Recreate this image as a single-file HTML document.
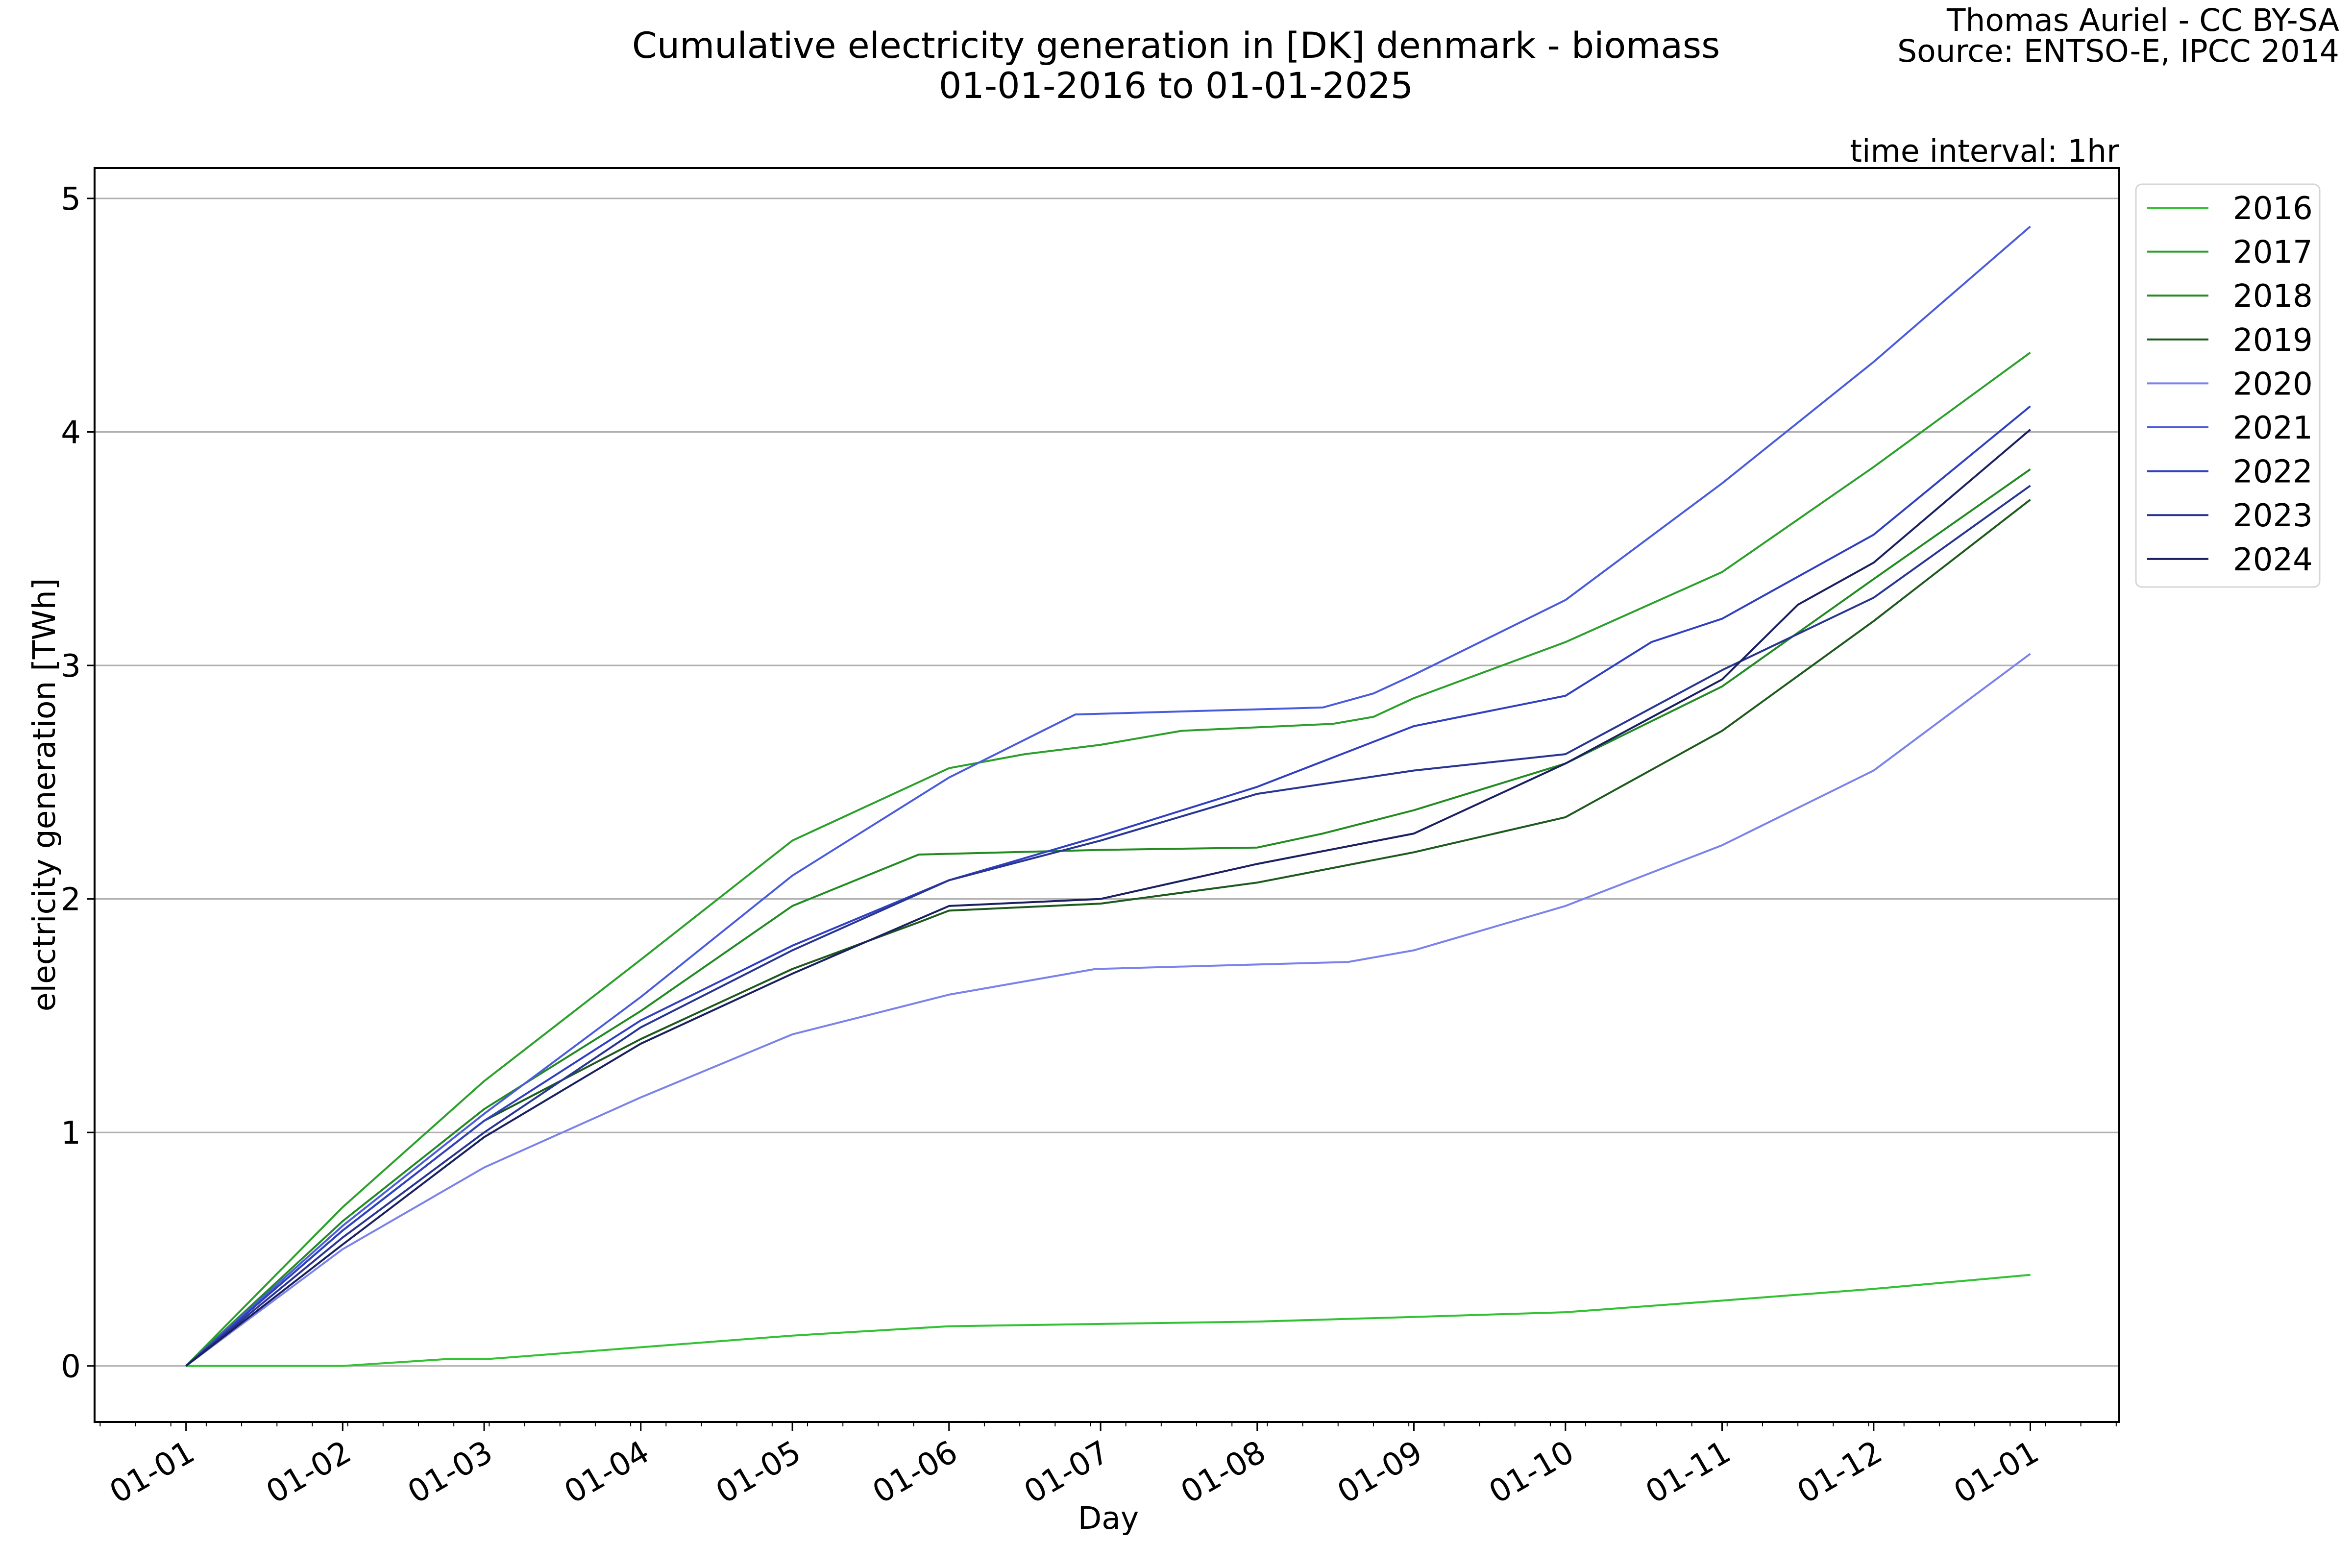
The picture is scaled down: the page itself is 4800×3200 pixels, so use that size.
<!DOCTYPE html>
<html>
<head>
<meta charset="utf-8">
<style>
html,body{margin:0;padding:0;background:#fff;}
svg{display:block;font-family:"DejaVu Sans","Liberation Sans",sans-serif;}
</style>
</head>
<body>
<svg id="chart" width="4800" height="3200" viewBox="0 0 4800 3200" xmlns="http://www.w3.org/2000/svg">
  <rect x="0" y="0" width="4800" height="3200" fill="#fff"/>
  <text x="2400" y="118" text-anchor="middle" font-size="73" fill="#000">Cumulative electricity generation in [DK] denmark - biomass</text>
  <text x="2400" y="200" text-anchor="middle" font-size="73" fill="#000">01-01-2016 to 01-01-2025</text>
  <text x="4774" y="63" text-anchor="end" font-size="63" fill="#000">Thomas Auriel - CC BY-SA</text>
  <text x="4774" y="126" text-anchor="end" font-size="63" fill="#000">Source: ENTSO-E, IPCC 2014</text>
  <text x="4325" y="330" text-anchor="end" font-size="63" fill="#000">time interval: 1hr</text>
  <g id="grid"></g>
  <g id="series"></g>
  <rect x="193" y="343" width="4132" height="2559" fill="none" stroke="#000" stroke-width="4"/>
  <g id="yaxis"></g>
  <g id="xaxis"></g>
  <text transform="translate(112,1622) rotate(-90)" text-anchor="middle" font-size="63" fill="#000">electricity generation [TWh]</text>
  <text x="2262" y="3120" text-anchor="middle" font-size="63" fill="#000">Day</text>
  <g id="legend"></g>
</svg>
<script>
const years = ['2016','2017','2018','2019','2020','2021','2022','2023','2024'];
const colors = ['#33c233','#2ca02c','#228b22','#1e5a1e','#7b83eb','#4a5cdb','#3040c0','#283593','#1a2060'];
const days = [0,31,59,90,120,151,181,212,243,273,304,334,365];
const d2016 = [0,31,45,52,60,90,120,151,181,212,243,273,304,334,365];
const s2016 = [0,0,0.02,0.03,0.03,0.08,0.13,0.17,0.18,0.19,0.21,0.23,0.28,0.33,0.39];
const d2017 = [0,31,59,90,120,151,166,181,197,227,235,243,273,304,334,365];
const s2017 = [0,0.68,1.22,1.74,2.25,2.56,2.62,2.66,2.72,2.75,2.78,2.86,3.10,3.40,3.85,4.34];
const d2018 = [0,31,59,90,120,145,181,212,225,243,273,304,334,365];
const s2018 = [0,0.62,1.10,1.52,1.97,2.19,2.21,2.22,2.28,2.38,2.58,2.91,3.37,3.84];
const d2019 = [0,31,59,90,120,145,151,181,212,243,273,304,334,365];
const s2019 = [0,0.58,1.05,1.40,1.70,1.90,1.95,1.98,2.07,2.20,2.35,2.72,3.19,3.71];
const d2020 = [0,31,59,90,120,151,180,230,243,273,304,334,365];
const s2020 = [0,0.50,0.85,1.15,1.42,1.59,1.70,1.73,1.78,1.97,2.23,2.55,3.05];
const d2021 = [0,31,59,90,120,151,176,225,235,243,273,304,334,365];
const s2021 = [0,0.60,1.08,1.58,2.10,2.52,2.79,2.82,2.88,2.96,3.28,3.78,4.30,4.88];
const d2022 = [0,31,59,90,120,151,181,212,243,273,290,304,334,365];
const s2022 = [0,0.58,1.05,1.48,1.80,2.08,2.27,2.48,2.74,2.87,3.10,3.20,3.56,4.11];
const d2023 = days;
const s2023 = [0,0.55,1.00,1.45,1.78,2.08,2.25,2.45,2.55,2.62,2.98,3.29,3.77];
const d2024 = [0,31,59,90,120,151,181,212,243,273,304,319,334,365];
const s2024 = [0,0.52,0.98,1.38,1.68,1.97,2.00,2.15,2.28,2.58,2.94,3.26,3.44,4.01];
const yTicks = [0,1,2,3,4,5];
const xTickLabels = ['01-01','01-02','01-03','01-04','01-05','01-06','01-07','01-08','01-09','01-10','01-11','01-12','01-01'];
const xTickDays = [0,31,59,90,120,151,181,212,243,273,304,334,365];

const NS = 'http://www.w3.org/2000/svg';
const X0 = 193, X1 = 4325, Y0 = 2902, Y1 = 343;
const dMin = -18.1, dMax = 382.6, vMin = -0.24, vMax = 5.13;
function xs(d){ return X0 + (d - dMin) / (dMax - dMin) * (X1 - X0); }
function ys(v){ return Y0 - (v - vMin) / (vMax - vMin) * (Y0 - Y1); }
function mk(tag, attrs, parent){ const e = document.createElementNS(NS, tag); for (const k in attrs) e.setAttribute(k, attrs[k]); parent.appendChild(e); return e; }

const grid = document.getElementById('grid');
const yaxis = document.getElementById('yaxis');
yTicks.forEach(t => {
  const gl = mk('line', {x1:X0, x2:X1, y1:ys(t), y2:ys(t), stroke:'#b0b0b0', 'stroke-width':3}, grid);
  
  
  const tk = mk('line', {x1:X0-15, x2:X0, y1:ys(t), y2:ys(t), stroke:'#000', 'stroke-width':3}, yaxis);
  
  
  const lb = mk('text', {x:X0-28, y:ys(t)+23, 'text-anchor':'end', 'font-size':64, fill:'#000'}, yaxis);
  lb.textContent = String(t);
  
  
});

const xaxis = document.getElementById('xaxis');
for (let d = -17; d <= 382; d += 7) {
  const m = mk('line', {x1:xs(d), x2:xs(d), y1:Y0, y2:Y0+9, stroke:'#000', 'stroke-width':2}, xaxis);
  
  
}
xTickDays.forEach((d, i) => {
  const x = xs(d);
  const tk = mk('line', {x1:x, x2:x, y1:Y0, y2:Y0+18, stroke:'#000', 'stroke-width':3}, xaxis);
  
  
  const lb = mk('text', {x:x+2, y:Y0+80, 'text-anchor':'end', 'font-size':64, fill:'#000', transform:'rotate(-30 '+(x+2)+' '+(Y0+40)+')'}, xaxis);
  lb.textContent = xTickLabels[i];
  
  
});

const seriesDays = [d2016,d2017,d2018,d2019,d2020,d2021,d2022,d2023,d2024];
const seriesData = [s2016,s2017,s2018,s2019,s2020,s2021,s2022,s2023,s2024];
const sg = document.getElementById('series');
seriesData.forEach((vals, i) => {
  const dd = seriesDays[i];
  const pts = vals.map((v, j) => xs(dd[j]).toFixed(1) + ',' + ys(v).toFixed(1)).join(' ');
  const pl = mk('polyline', {points:pts, fill:'none', stroke:colors[i], 'stroke-width':4, 'stroke-linejoin':'round'}, sg);
  
  
});

const lg = document.getElementById('legend');
const box = mk('rect', {x:4359, y:376, width:375, height:822, rx:12, fill:'#fff', stroke:'#d6d6d6', 'stroke-width':3}, lg);


years.forEach((yr, i) => {
  const y = 424 + i * 89.6;
  const ln = mk('line', {x1:4382, x2:4507, y1:y, y2:y, stroke:colors[i], 'stroke-width':4}, lg);
  
  
  const t = mk('text', {x:4557, y:y+23, 'font-size':64, fill:'#000'}, lg);
  t.textContent = yr;
  
  
});
</script>
</body>
</html>
